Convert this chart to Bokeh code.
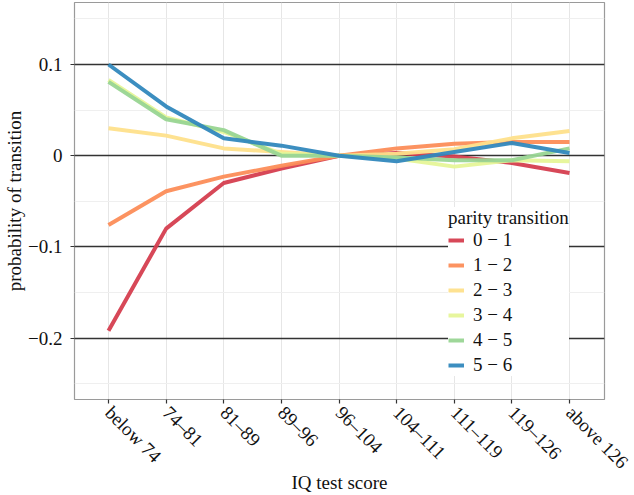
import math
from bokeh.plotting import figure
from bokeh.models import (FixedTicker, CustomJSTickFormatter, Legend, LegendItem,
                          ColumnDataSource)
from bokeh.embed import file_html
from bokeh.resources import INLINE

categories = ["below 74", "74\u201381", "81\u201389", "89\u201396", "96\u2013104",
              "104\u2013111", "111\u2013119", "119\u2013126", "above 126"]
series_names = ["0 \u2212 1", "1 \u2212 2", "2 \u2212 3", "3 \u2212 4", "4 \u2212 5", "5 \u2212 6"]
colors = ["#D53E4F", "#FC8D59", "#FEE08B", "#E6F598", "#99D594", "#3288BD"]

t01 = [-0.192, -0.080, -0.030, -0.014, 0.0, 0.003, -0.001, -0.008, -0.019]
t12 = [-0.076, -0.039, -0.023, -0.011, 0.0, 0.008, 0.013, 0.015, 0.015]
t23 = [0.030, 0.022, 0.008, 0.004, 0.0, 0.002, 0.007, 0.019, 0.027]
t34 = [0.083, 0.042, 0.026, 0.002, 0.0, -0.003, -0.012, -0.005, -0.006]
t45 = [0.081, 0.040, 0.028, 0.000, 0.0, -0.002, -0.005, -0.005, 0.008]
t56 = [0.100, 0.054, 0.019, 0.011, 0.0, -0.006, 0.004, 0.014, 0.003]
series = [t01, t12, t23, t34, t45, t56]

y_major = [-0.2, -0.1, 0.0, 0.1]
y_minor = [-0.25, -0.15, -0.05, 0.05, 0.15]

FONT = "Liberation Serif, Times New Roman, Times, serif"
FS = "19px"
Y0, Y1 = -0.2674, 0.168

p = figure(width=634, height=495, output_backend="svg", toolbar_location=None,
           x_range=(-0.59, 8.607), y_range=(Y0, Y1),
           min_border_left=74, min_border_right=30, min_border_top=2,
           min_border_bottom=95)
p.styles = {"margin": "0px"}
p.background_fill_color = "white"
p.border_fill_color = "white"
p.outline_line_color = "#9a9a9a"
p.outline_line_width = 1.2

x = list(range(len(categories)))
p.xaxis.ticker = FixedTicker(ticks=x)
p.xaxis.major_label_overrides = {i: c for i, c in enumerate(categories)}
p.xaxis.major_label_orientation = -math.pi / 4
p.yaxis.ticker = FixedTicker(ticks=y_major, minor_ticks=y_minor)
p.yaxis.formatter = CustomJSTickFormatter(
    code="if (Math.abs(tick) < 1e-9) return '0'; return (tick < 0 ? '\u2212' : '') + Math.abs(tick).toFixed(1);")

for ax in (p.xaxis[0], p.yaxis[0]):
    ax.axis_line_color = None
    ax.major_tick_line_color = "#333333"
    ax.major_tick_line_width = 1.2
    ax.major_tick_in = 0
    ax.major_tick_out = 4
    ax.minor_tick_line_color = None
    ax.major_label_text_font = FONT
    ax.major_label_text_font_size = FS
    ax.major_label_text_color = "#111111"
    ax.axis_label_text_font = FONT
    ax.axis_label_text_font_size = FS
    ax.axis_label_text_font_style = "normal"
    ax.axis_label_text_color = "#111111"

p.xaxis.major_label_standoff = 6
p.xaxis.axis_label = "IQ test score"
p.xaxis.axis_label_standoff = -11
p.yaxis.major_label_standoff = 8
p.yaxis.axis_label = "probability of transition"
p.yaxis.axis_label_standoff = 0

p.xgrid.grid_line_color = "#e6e6e6"
p.xgrid.grid_line_width = 1
p.ygrid.grid_line_color = "#333333"
p.ygrid.grid_line_width = 1.5
p.ygrid.minor_grid_line_color = "#efefef"
p.ygrid.minor_grid_line_width = 1

items = []
for name, vals, col in zip(series_names, series, colors):
    src = ColumnDataSource(dict(x=x, y=vals))
    r = p.line("x", "y", source=src, line_color=col, line_width=4, line_alpha=0.95)
    items.append(LegendItem(label=name, renderers=[r]))

legend = Legend(items=items, location=(374, 23), title="parity transition",
                title_text_font=FONT, title_text_font_size=FS,
                title_text_font_style="normal", title_text_color="#111111",
                title_standoff=0,
                label_text_font=FONT, label_text_font_size=FS,
                label_text_color="#111111",
                glyph_width=16, glyph_height=20, label_height=20,
                spacing=3, padding=6, margin=0, label_standoff=9,
                border_line_color=None, background_fill_color="white",
                background_fill_alpha=1.0)
p.add_layout(legend, "center")

open("out.html", "w").write(file_html(p, INLINE))
